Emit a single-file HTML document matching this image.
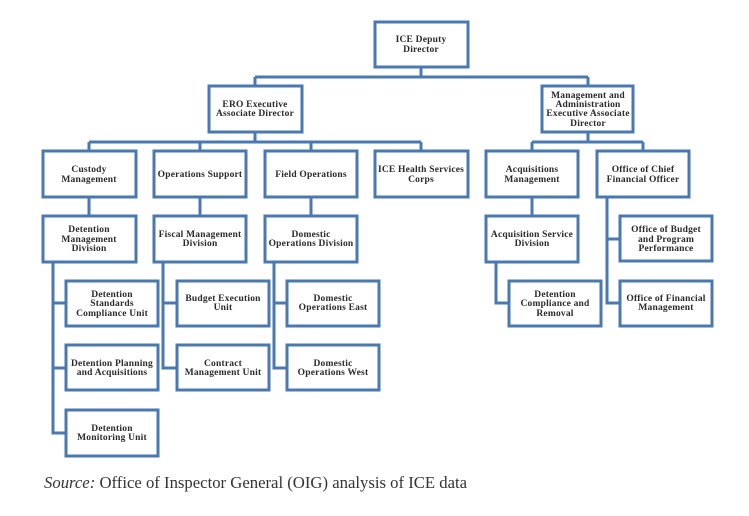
<!DOCTYPE html>
<html><head><meta charset="utf-8"><style>
html,body{margin:0;padding:0;background:#fff;}
svg{display:block;}
text{font-family:"Liberation Serif",serif;font-weight:bold;font-size:9.5px;fill:#2a2a2a;text-anchor:middle;letter-spacing:0.2px;}
.src{font-size:16.7px;font-weight:normal;text-anchor:start;fill:#333;letter-spacing:0;}
</style></head><body>
<svg width="749" height="516" viewBox="0 0 749 516" xmlns="http://www.w3.org/2000/svg">
<g fill="none" stroke="#4a78b0" stroke-width="3">
<path d="M421 67V77M255 77H588M255 77V86M588 77V86"/>
<path d="M255 132V142M89 142H421M89 142V151M200 142V151M311 142V151M421 142V151"/>
<path d="M588 132V142M532 142H643M532 142V151M643 142V151"/>
<path d="M89 197V216M200 197V216M311 197V216M532 197V216"/>
<path d="M53 262V433H66M53 303H66M53 368H66"/>
<path d="M163 262V368H177M163 303H177"/>
<path d="M274 262V368H287M274 303H287"/>
<path d="M496 262V303H509"/>
<path d="M607 197V303H620M607 239H620"/>
<rect x="375" y="22" width="93" height="45"/>
<rect x="209" y="86" width="93" height="46"/>
<rect x="542" y="86" width="91" height="46"/>
<rect x="43" y="151" width="93" height="46"/>
<rect x="154" y="151" width="92" height="46"/>
<rect x="265" y="151" width="92" height="46"/>
<rect x="375" y="151" width="93" height="46"/>
<rect x="486" y="151" width="92" height="46"/>
<rect x="597" y="151" width="92" height="46"/>
<rect x="43" y="216" width="93" height="46"/>
<rect x="154" y="216" width="92" height="46"/>
<rect x="265" y="216" width="92" height="46"/>
<rect x="486" y="216" width="92" height="46"/>
<rect x="620" y="216" width="92" height="45"/>
<rect x="66" y="281" width="92" height="45"/>
<rect x="177" y="281" width="92" height="45"/>
<rect x="287" y="281" width="92" height="45"/>
<rect x="509" y="281" width="92" height="45"/>
<rect x="620" y="281" width="92" height="45"/>
<rect x="66" y="345" width="92" height="45"/>
<rect x="177" y="345" width="92" height="45"/>
<rect x="287" y="345" width="92" height="45"/>
<rect x="66" y="410" width="92" height="46"/>
</g>
<text x="421" y="42">ICE Deputy</text><text x="421" y="52">Director</text>
<text x="255" y="107">ERO Executive</text><text x="255" y="116">Associate Director</text>
<text x="588" y="98">Management and</text><text x="588" y="107">Administration</text><text x="588" y="116">Executive Associate</text><text x="588" y="126">Director</text>
<text x="89" y="172">Custody</text><text x="89" y="182">Management</text>
<text x="200" y="177">Operations Support</text>
<text x="311" y="177">Field Operations</text>
<text x="421" y="172">ICE Health Services</text><text x="421" y="182">Corps</text>
<text x="532" y="172">Acquisitions</text><text x="532" y="182">Management</text>
<text x="643" y="172">Office of Chief</text><text x="643" y="182">Financial Officer</text>
<text x="89" y="232">Detention</text><text x="89" y="242">Management</text><text x="89" y="251">Division</text>
<text x="200" y="237">Fiscal Management</text><text x="200" y="246">Division</text>
<text x="311" y="237">Domestic</text><text x="311" y="246">Operations Division</text>
<text x="532" y="237">Acquisition Service</text><text x="532" y="246">Division</text>
<text x="666" y="232">Office of Budget</text><text x="666" y="242">and Program</text><text x="666" y="251">Performance</text>
<text x="112" y="297">Detention</text><text x="112" y="306">Standards</text><text x="112" y="316">Compliance Unit</text>
<text x="223" y="301">Budget Execution</text><text x="223" y="310">Unit</text>
<text x="333" y="301">Domestic</text><text x="333" y="310">Operations East</text>
<text x="555" y="297">Detention</text><text x="555" y="306">Compliance and</text><text x="555" y="316">Removal</text>
<text x="666" y="301">Office of Financial</text><text x="666" y="310">Management</text>
<text x="112" y="366">Detention Planning</text><text x="112" y="375">and Acquisitions</text>
<text x="223" y="366">Contract</text><text x="223" y="375">Management Unit</text>
<text x="333" y="366">Domestic</text><text x="333" y="375">Operations West</text>
<text x="112" y="431">Detention</text><text x="112" y="440">Monitoring Unit</text>
<text class="src" x="44" y="488"><tspan font-style="italic">Source:</tspan> Office of Inspector General (OIG) analysis of ICE data</text>
</svg>
</body></html>
